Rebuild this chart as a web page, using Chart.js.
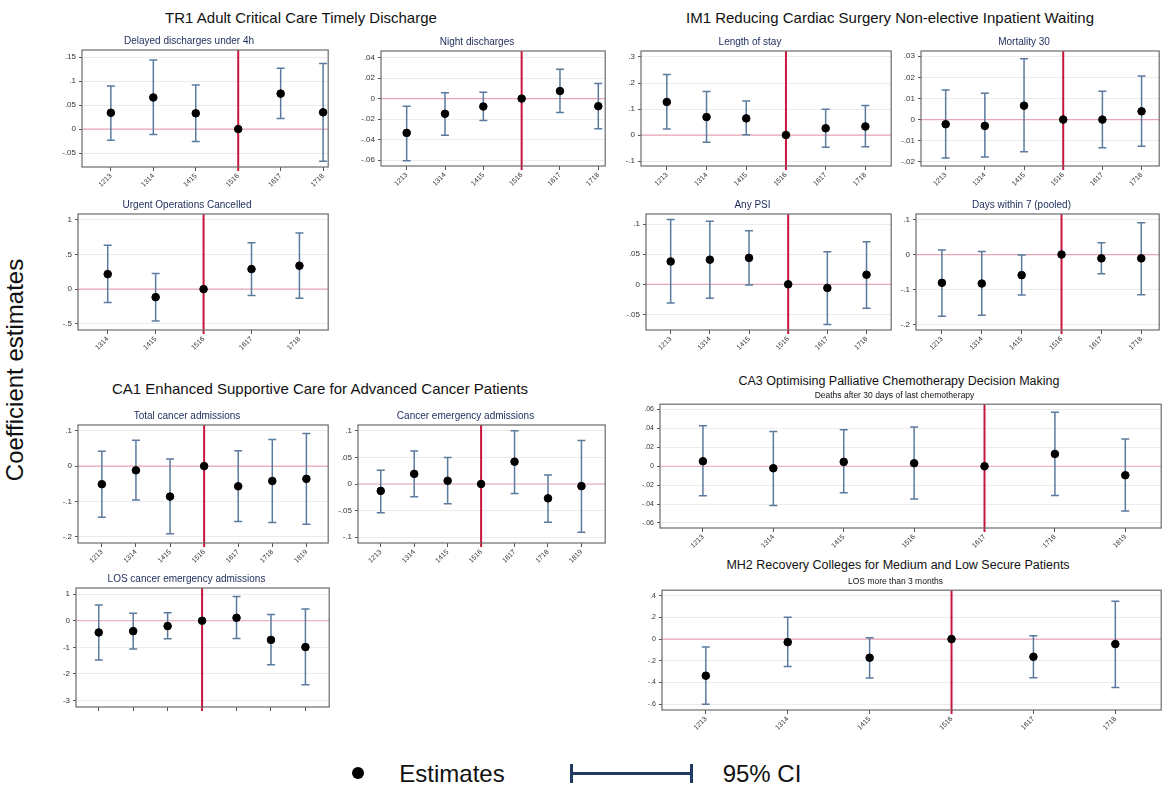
<!DOCTYPE html>
<html>
<head>
<meta charset="utf-8">
<script src="https://cdn.jsdelivr.net/npm/chart.js@4"></script>
<style>
  body { margin: 0; background: #fff; font-family: "Liberation Sans", Arial, sans-serif; }
  #page { position: relative; width: 1169px; height: 791px; overflow: hidden; }
  .txt { position: absolute; white-space: nowrap; transform: translate(-50%, -50%); color: #111; }
  .sec { font-size: 15px; }
  .sec-sm { font-size: 12.5px; }
  canvas { position: absolute; }
</style>
</head>
<body>
<div id="page">
  <div class="txt sec" style="left:301px;top:17px">TR1 Adult Critical Care Timely Discharge</div>
  <div class="txt sec" style="left:890px;top:17px">IM1 Reducing Cardiac Surgery Non-elective Inpatient Waiting</div>
  <div class="txt sec" style="left:320px;top:388px">CA1 Enhanced Supportive Care for Advanced Cancer Patients</div>
  <div class="txt sec-sm" style="left:899px;top:381px">CA3 Optimising Palliative Chemotherapy Decision Making</div>
  <div class="txt sec-sm" style="left:898px;top:565px">MH2 Recovery Colleges for Medium and Low Secure Patients</div>
  <div class="txt" style="left:15px;top:370px;font-size:24px;transform:translate(-50%,-50%) rotate(-90deg)">Coefficient estimates</div>

  <!-- legend -->
  <div style="position:absolute;left:352px;top:767px;width:12px;height:12px;border-radius:50%;background:#000"></div>
  <div class="txt" style="left:452px;top:774px;font-size:24px">Estimates</div>
  <div style="position:absolute;left:571px;top:772px;width:121px;height:2.5px;background:#1f3b63"></div>
  <div style="position:absolute;left:570px;top:764px;width:2.5px;height:19px;background:#1f3b63"></div>
  <div style="position:absolute;left:690px;top:764px;width:2.5px;height:19px;background:#1f3b63"></div>
  <div class="txt" style="left:762px;top:774px;font-size:24px">95% CI</div>
</div>

<script>
// categories
const years5 = ['1314', '1415', '1516', '1617', '1718'];
const years6 = ['1213', '1314', '1415', '1516', '1617', '1718'];
const years7 = ['1213', '1314', '1415', '1516', '1617', '1718', '1819'];

// TR1 - delayed discharges under 4h
const delayedEst = [0.034, 0.066, 0.033, 0, 0.074, 0.035];
const delayedLo  = [-0.023, -0.011, -0.026, null, 0.022, -0.067];
const delayedHi  = [0.090, 0.144, 0.092, null, 0.127, 0.137];
const delayedTicks = [-0.05, 0, 0.05, 0.1, 0.15];

// TR1 - night discharges
const nightEst = [-0.0335, -0.0148, -0.0077, 0, 0.0074, -0.0074];
const nightLo  = [-0.0606, -0.0358, -0.0213, null, -0.0135, -0.0294];
const nightHi  = [-0.0074, 0.0058, 0.0061, null, 0.0287, 0.0148];
const nightTicks = [-0.06, -0.04, -0.02, 0, 0.02, 0.04];

// TR1 - urgent operations cancelled
const urgentEst = [0.216, -0.115, 0, 0.288, 0.337];
const urgentLo  = [-0.192, -0.457, null, -0.091, -0.130];
const urgentHi  = [0.630, 0.226, null, 0.668, 0.808];
const urgentTicks = [-0.5, 0, 0.5, 1];

// IM1 - length of stay
const losEst = [0.127, 0.069, 0.064, 0, 0.026, 0.033];
const losLo  = [0.023, -0.028, 0.001, null, -0.047, -0.045];
const losHi  = [0.233, 0.167, 0.131, null, 0.099, 0.114];
const losTicks = [-0.1, 0, 0.1, 0.2, 0.3];

// IM1 - mortality 30
const mortEst = [-0.0022, -0.0030, 0.0066, 0, 0, 0.0039];
const mortLo  = [-0.0182, -0.0177, -0.0153, null, -0.0134, -0.0126];
const mortHi  = [0.0140, 0.0125, 0.0288, null, 0.0134, 0.0207];
const mortTicks = [-0.02, -0.01, 0, 0.01, 0.02, 0.03];

// IM1 - any PSI
const psiEst = [0.038, 0.041, 0.044, 0, -0.006, 0.016];
const psiLo  = [-0.031, -0.023, -0.001, null, -0.067, -0.040];
const psiHi  = [0.108, 0.105, 0.089, null, 0.054, 0.071];
const psiTicks = [-0.05, 0, 0.05, 0.1];

// IM1 - days within 7 (pooled)
const daysEst = [-0.081, -0.083, -0.059, 0, -0.011, -0.011];
const daysLo  = [-0.177, -0.174, -0.116, null, -0.055, -0.115];
const daysHi  = [0.013, 0.009, -0.001, null, 0.034, 0.091];
const daysTicks = [-0.2, -0.1, 0, 0.1];

// CA1 - total cancer admissions
const totalEst = [-0.051, -0.012, -0.086, 0, -0.057, -0.042, -0.036];
const totalLo  = [-0.144, -0.096, -0.191, null, -0.156, -0.159, -0.164];
const totalHi  = [0.042, 0.073, 0.020, null, 0.043, 0.075, 0.092];
const totalTicks = [-0.2, -0.1, 0, 0.1];

// CA1 - cancer emergency admissions
const emergEst = [-0.013, 0.019, 0.006, 0, 0.042, -0.027, -0.004];
const emergLo  = [-0.054, -0.024, -0.037, null, -0.018, -0.072, -0.091];
const emergHi  = [0.026, 0.062, 0.050, null, 0.100, 0.017, 0.082];
const emergTicks = [-0.1, -0.05, 0, 0.05, 0.1];

// CA1 - LOS cancer emergency admissions
const losCaEst = [-0.44, -0.39, -0.20, 0, 0.11, -0.72, -0.99];
const losCaLo  = [-1.47, -1.06, -0.68, null, -0.67, -1.65, -2.40];
const losCaHi  = [0.59, 0.28, 0.30, null, 0.91, 0.23, 0.44];
const losCaTicks = [-3, -2, -1, 0, 1];

// CA3 - deaths after 30 days of last chemotherapy
const deathsEst = [0.0053, -0.0021, 0.0046, 0.0032, 0, 0.0130, -0.0095];
const deathsLo  = [-0.0312, -0.0414, -0.0281, -0.0347, null, -0.0309, -0.0474];
const deathsHi  = [0.0428, 0.0368, 0.0386, 0.0414, null, 0.0572, 0.0288];
const deathsTicks = [-0.06, -0.04, -0.02, 0, 0.02, 0.04, 0.06];

// MH2 - LOS more than 3 months
const los3Est = [-0.338, -0.028, -0.172, 0, -0.163, -0.046];
const los3Lo  = [-0.603, -0.252, -0.360, null, -0.357, -0.446];
const los3Hi  = [-0.074, 0.203, 0.012, null, 0.031, 0.351];
const los3Ticks = [-0.6, -0.4, -0.2, 0, 0.2, 0.4];

// panel layout: plot box (l,t,r,b) in page pixels + axis ranges
const panels = [
  { title: 'Delayed discharges under 4h', cats: years6, est: delayedEst, lo: delayedLo, hi: delayedHi, ticks: delayedTicks, ref: '1516',
    l: 82, t: 50, r: 330, b: 167, xr: [-0.68, 5.12], yr: [-0.079, 0.165] },
  { title: 'Night discharges', cats: years6, est: nightEst, lo: nightLo, hi: nightHi, ticks: nightTicks, ref: '1516',
    l: 381, t: 51, r: 607, b: 166, xr: [-0.67, 5.18], yr: [-0.0658, 0.0465] },
  { title: 'Urgent Operations Cancelled', cats: years5, est: urgentEst, lo: urgentLo, hi: urgentHi, ticks: urgentTicks, ref: '1516',
    l: 78, t: 214, r: 330, b: 330, xr: [-0.62, 4.6], yr: [-0.587, 1.08] },
  { title: 'Length of stay', cats: years6, est: losEst, lo: losLo, hi: losHi, ticks: losTicks, ref: '1516',
    l: 641, t: 51, r: 893, b: 166, xr: [-0.65, 5.65], yr: [-0.119, 0.323] },
  { title: 'Mortality 30', cats: years6, est: mortEst, lo: mortLo, hi: mortHi, ticks: mortTicks, ref: '1516',
    l: 921, t: 51, r: 1161, b: 166, xr: [-0.63, 5.45], yr: [-0.022, 0.0325] },
  { title: 'Any PSI', cats: years6, est: psiEst, lo: psiLo, hi: psiHi, ticks: psiTicks, ref: '1516',
    l: 646, t: 214, r: 893, b: 330, xr: [-0.63, 5.63], yr: [-0.076, 0.117] },
  { title: 'Days within 7 (pooled)', cats: years6, est: daysEst, lo: daysLo, hi: daysHi, ticks: daysTicks, ref: '1516',
    l: 916, t: 214, r: 1161, b: 330, xr: [-0.65, 5.45], yr: [-0.216, 0.116] },
  { title: 'Total cancer admissions', cats: years7, est: totalEst, lo: totalLo, hi: totalHi, ticks: totalTicks, ref: '1516',
    l: 78, t: 425, r: 330, b: 543, xr: [-0.7, 6.64], yr: [-0.217, 0.116] },
  { title: 'Cancer emergency admissions', cats: years7, est: emergEst, lo: emergLo, hi: emergHi, ticks: emergTicks, ref: '1516',
    l: 358, t: 425, r: 607, b: 543, xr: [-0.68, 6.71], yr: [-0.111, 0.111] },
  { title: 'LOS cancer emergency admissions', cats: years7, est: losCaEst, lo: losCaLo, hi: losCaHi, ticks: losCaTicks, ref: '1516',
    l: 76, t: 588, r: 331, b: 707, xr: [-0.66, 6.69], yr: [-3.24, 1.23], noLabels: true },
  { title: 'Deaths after 30 days of last chemotherapy', cats: years7, est: deathsEst, lo: deathsLo, hi: deathsHi, ticks: deathsTicks, ref: '1617',
    l: 660, t: 404, r: 1163, b: 528, xr: [-0.61, 6.51], yr: [-0.0653, 0.0656], small: true },
  { title: 'LOS more than 3 months', cats: years6, est: los3Est, lo: los3Lo, hi: los3Hi, ticks: los3Ticks, ref: '1516',
    l: 662, t: 590, r: 1163, b: 710, xr: [-0.535, 5.56], yr: [-0.655, 0.452], small: true },
];

const FONT = '"Liberation Sans", Arial, sans-serif';

// stata style numbers: .05, -.1, 0
function stataNum(v) {
  const s = String(+v.toFixed(4));
  return s.replace(/^(-?)0\./, '$1.');
}

// pink zero line, red reference line, box, error bars
const refLines = {
  id: 'refLines',
  beforeDatasetsDraw(chart) {
    const { ctx, chartArea: a, scales: { x, y } } = chart;
    const ds = chart.data.datasets[0];
    ctx.save();
    const y0 = y.getPixelForValue(0);
    ctx.strokeStyle = '#e9a6b8';
    ctx.lineWidth = 1.2;
    ctx.beginPath(); ctx.moveTo(a.left, y0); ctx.lineTo(a.right, y0); ctx.stroke();

    const xr = x.getPixelForValue(ds.refIndex);
    ctx.strokeStyle = '#c8173c';
    ctx.lineWidth = 2;
    ctx.beginPath(); ctx.moveTo(xr, a.top); ctx.lineTo(xr, a.bottom + 4); ctx.stroke();

    ctx.strokeStyle = '#5a7b9e';
    ctx.lineWidth = 1.5;
    ds.lo.forEach((lo, i) => {
      if (lo === null) return;
      const px = x.getPixelForValue(i);
      const y1 = y.getPixelForValue(lo);
      const y2 = y.getPixelForValue(ds.hi[i]);
      ctx.beginPath();
      ctx.moveTo(px, y1); ctx.lineTo(px, y2);
      ctx.moveTo(px - 4, y1); ctx.lineTo(px + 4, y1);
      ctx.moveTo(px - 4, y2); ctx.lineTo(px + 4, y2);
      ctx.stroke();
    });

    ctx.strokeStyle = '#6b6b6b';
    ctx.lineWidth = 1.2;
    ctx.strokeRect(a.left, a.top, a.right - a.left, a.bottom - a.top);
    ctx.restore();
  }
};

const page = document.getElementById('page');
const AXIS_W = 34, AXIS_H = 30;

panels.forEach(p => {
  const titleSize = p.small ? 8.5 : 10;
  const titleH = titleSize * 1.2 + 3;
  const w = p.r - p.l + AXIS_W + 3;
  const h = p.b - p.t + titleH + AXIS_H;
  const canvas = document.createElement('canvas');
  canvas.width = w;
  canvas.height = h;
  canvas.style.left = (p.l - AXIS_W) + 'px';
  canvas.style.top = (p.t - titleH) + 'px';
  canvas.style.width = w + 'px';
  canvas.style.height = h + 'px';
  page.appendChild(canvas);

  new Chart(canvas, {
    type: 'scatter',
    data: {
      datasets: [{
        data: p.est.map((v, i) => ({ x: i, y: v })),
        lo: p.lo,
        hi: p.hi,
        refIndex: p.cats.indexOf(p.ref),
        backgroundColor: '#000',
        borderColor: '#000',
        pointRadius: 3.8,
        pointHoverRadius: 3.8
      }]
    },
    options: {
      responsive: false,
      animation: false,
      devicePixelRatio: 1,
      layout: { padding: { left: 0, right: 3, top: 0, bottom: 0 } },
      plugins: {
        legend: { display: false },
        tooltip: { enabled: false },
        title: {
          display: true,
          text: p.title,
          color: p.small ? '#111' : '#1c2b5a',
          font: { family: FONT, size: titleSize, weight: 'normal', lineHeight: 1.2 },
          padding: { top: 0, bottom: 3 }
        }
      },
      scales: {
        x: {
          type: 'linear',
          min: p.xr[0],
          max: p.xr[1],
          afterBuildTicks: s => { s.ticks = p.cats.map((c, i) => ({ value: i })); },
          afterFit: s => { s.height = AXIS_H; s.paddingLeft = 0; s.paddingRight = 0; },
          border: { display: false },
          grid: { drawOnChartArea: false, color: '#555', tickColor: '#555', tickLength: 4 },
          ticks: {
            autoSkip: false,
            minRotation: 45,
            maxRotation: 45,
            padding: 1,
            color: p.noLabels ? 'rgba(0,0,0,0)' : '#333',
            font: { family: FONT, size: 7 },
            callback: v => p.cats[v]
          }
        },
        y: {
          min: p.yr[0],
          max: p.yr[1],
          afterBuildTicks: s => { s.ticks = p.ticks.map(v => ({ value: v })); },
          afterFit: s => { s.width = AXIS_W; s.paddingTop = 0; s.paddingBottom = 0; },
          border: { display: false },
          grid: { color: '#ececec', tickColor: '#555', tickLength: 3 },
          ticks: {
            padding: 3,
            color: '#333',
            font: { family: FONT, size: p.small ? 7 : 8 },
            callback: v => stataNum(v)
          }
        }
      }
    },
    plugins: [refLines]
  });
});
</script>
</body>
</html>
